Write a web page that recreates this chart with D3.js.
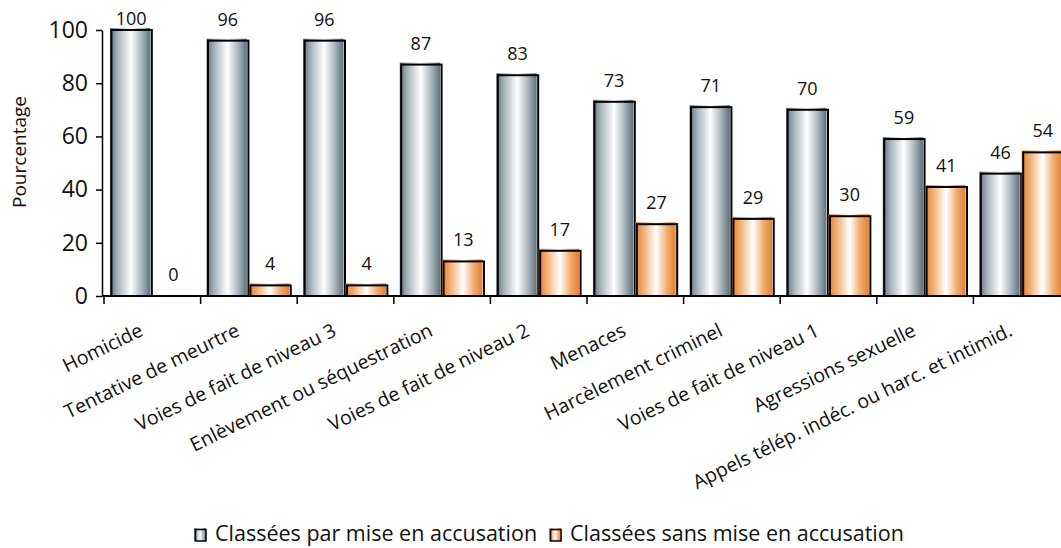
<!DOCTYPE html>
<html>
<head>
<meta charset="utf-8">
<script src="https://cdn.jsdelivr.net/npm/d3@7"></script>
<style>
  body { margin: 0; background: #fff; }
  svg { font-family: "Open Sans", "Noto Sans", sans-serif; }
</style>
</head>
<body>
<svg width="1061" height="548"></svg>
<script>
// categories and values
var categories = [
  "Homicide",
  "Tentative de meurtre",
  "Voies de fait de niveau 3",
  "Enlèvement ou séquestration",
  "Voies de fait de niveau 2",
  "Menaces",
  "Harcèlement criminel",
  "Voies de fait de niveau 1",
  "Agressions sexuelle",
  "Appels télép. indéc. ou harc. et intimid."
];
var avecAccusation = [100, 96, 96, 87, 83, 73, 71, 70, 59, 46];
var sansAccusation = [0, 4, 4, 13, 17, 27, 29, 30, 41, 54];
var seriesNames = ["Classées par mise en accusation", "Classées sans mise en accusation"];
var yTicks = [0, 20, 40, 60, 80, 100];

var svg = d3.select("svg"),
    width = +svg.attr("width"),
    height = +svg.attr("height");

var axisX = 102, baseY = 296;

var rows = categories.map(function(c, i) {
  return { cat: c, vals: [avecAccusation[i], sansAccusation[i]] };
});

var y = d3.scaleLinear().domain([0, 100]).range([baseY, 30]);
var x0 = d3.scaleBand().domain(categories).range([104, 104 + 96.6 * categories.length]);
var x1 = d3.scaleBand().domain([0, 1]).range([0, x0.bandwidth()]).paddingOuter(0.14);

// gradients, cylinder look
var defs = svg.append("defs");
function grad(id, dark, mid) {
  var g = defs.append("linearGradient").attr("id", id)
      .attr("x1", "0%").attr("x2", "100%").attr("y1", "0%").attr("y2", "0%");
  g.append("stop").attr("offset", "0%").attr("stop-color", dark);
  g.append("stop").attr("offset", "20%").attr("stop-color", mid);
  g.append("stop").attr("offset", "52%").attr("stop-color", "#ffffff");
  g.append("stop").attr("offset", "78%").attr("stop-color", mid);
  g.append("stop").attr("offset", "100%").attr("stop-color", dark);
}
grad("gGrey", "#5f707a", "#a9b6bd");
grad("gOrange", "#e3822f", "#f1ad72");
var fills = ["url(#gGrey)", "url(#gOrange)"];

// bars
var groups = svg.append("g").selectAll("g")
  .data(rows)
  .enter().append("g")
    .attr("transform", function(d) { return "translate(" + x0(d.cat) + ",0)"; });

var bars = groups.selectAll("g.bar")
  .data(function(d) { return d.vals.map(function(v, k) { return { k: k, v: v }; }); })
  .enter().append("g").attr("class", "bar");

bars.filter(function(d) { return d.v > 0; }).append("rect")
    .attr("x", function(d) { return x1(d.k); })
    .attr("y", function(d) { return y(d.v) - 2; })
    .attr("width", x1.bandwidth() - 2)
    .attr("height", function(d) { return baseY - y(d.v) + 2; })
    .attr("fill", function(d) { return fills[d.k]; });

bars.filter(function(d) { return d.v > 0; }).append("rect")
    .attr("x", function(d) { return x1(d.k) + 1.5; })
    .attr("y", function(d) { return y(d.v); })
    .attr("width", x1.bandwidth() - 2)
    .attr("height", function(d) { return baseY - y(d.v); })
    .attr("fill", "none")
    .attr("stroke", "#000")
    .attr("stroke-width", 2);

// value labels
bars.append("text")
    .attr("x", function(d) { return x1(d.k) + x1.bandwidth() / 2; })
    .attr("y", function(d) { return Math.max(y(d.v) - 15, 25); })
    .attr("text-anchor", "middle")
    .attr("font-size", 18)
    .attr("fill", "#111")
    .text(function(d) { return d.v; });

// y axis
var yAxis = svg.append("g")
    .attr("transform", "translate(" + axisX + ",0)")
    .call(d3.axisLeft(y).tickValues(yTicks).tickSize(6).tickSizeOuter(0));
yAxis.select(".domain").attr("stroke", "#000").attr("stroke-width", 1.5);
yAxis.selectAll(".tick line").attr("stroke", "#000").attr("stroke-width", 1.5);
yAxis.selectAll(".tick text")
    .attr("font-size", 23)
    .attr("font-family", "Open Sans, sans-serif")
    .attr("fill", "#111")
    .attr("x", -14);

svg.append("text")
    .attr("transform", "translate(26,152) rotate(-90)")
    .attr("text-anchor", "middle")
    .attr("font-size", 19)
    .attr("fill", "#111")
    .text("Pourcentage");

// x axis line and ticks between groups
svg.append("line")
    .attr("x1", axisX).attr("x2", width)
    .attr("y1", baseY).attr("y2", baseY)
    .attr("stroke", "#000").attr("stroke-width", 2);

svg.append("g").selectAll("line")
  .data(categories)
  .enter().append("line")
    .attr("x1", function(d) { return x0(d); })
    .attr("x2", function(d) { return x0(d); })
    .attr("y1", baseY).attr("y2", baseY + 8)
    .attr("stroke", "#000").attr("stroke-width", 1.5);

// rotated category labels
svg.append("g").selectAll("text")
  .data(categories)
  .enter().append("text")
    .attr("transform", function(d) {
      return "translate(" + (x0(d) + x0.bandwidth() / 2 - 8) + "," + (baseY + 39) + ") rotate(-26)";
    })
    .attr("text-anchor", "end")
    .attr("font-size", 19.5)
    .attr("fill", "#111")
    .text(function(d) { return d; });

// legend
var legend = svg.append("g").attr("transform", "translate(194,541)");
var lx = 0;
seriesNames.forEach(function(name, k) {
  var item = legend.append("g").attr("transform", "translate(" + lx + ",0)");
  item.append("rect").attr("x", 0).attr("y", -13).attr("width", 12).attr("height", 13)
      .attr("fill", fills[k]);
  item.append("rect").attr("x", 1.5).attr("y", -11.5).attr("width", 10.5).attr("height", 11.5)
      .attr("fill", "none").attr("stroke", "#000").attr("stroke-width", 1.5);
  var t = item.append("text").attr("x", 21).attr("y", 0)
      .attr("font-size", 21.5).attr("fill", "#111").text(name);
  lx += 21 + t.node().getComputedTextLength() + 12;
});
</script>
</body>
</html>
